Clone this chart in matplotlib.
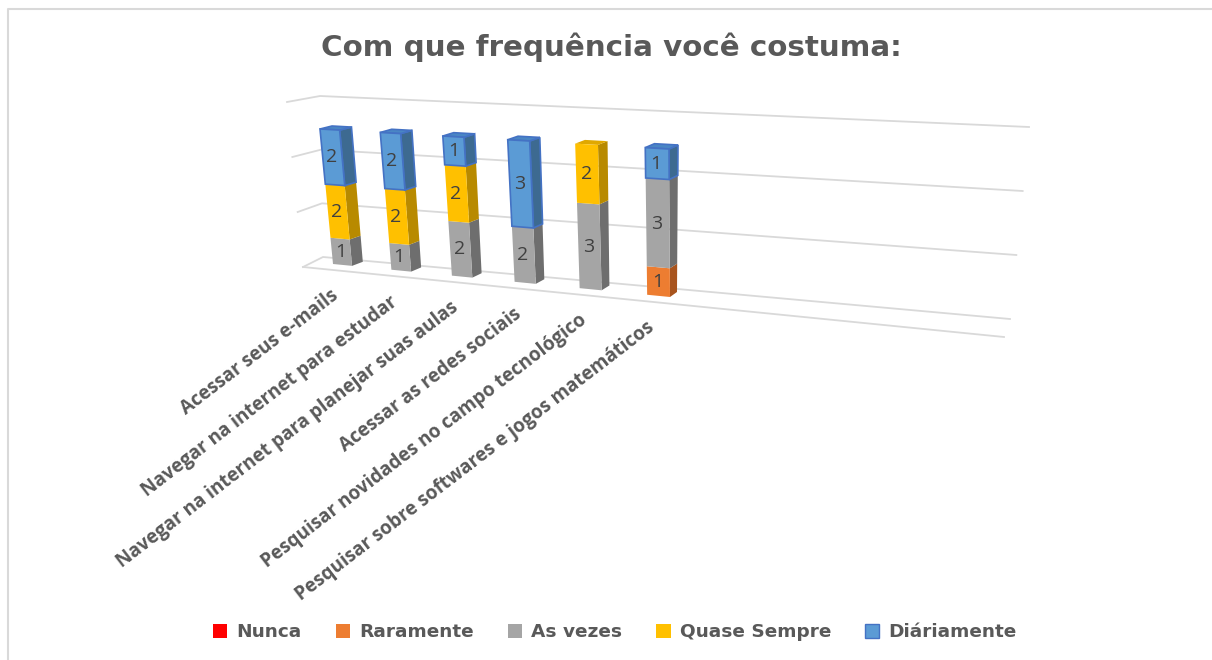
import numpy as np
import matplotlib
matplotlib.use("Agg")
import matplotlib.pyplot as plt
from matplotlib.patches import Polygon, Patch

plt.rcParams['font.family'] = ['Open Sans', 'DejaVu Sans']

# Data
categories = [
    "Acessar seus e-mails",
    "Navegar na internet para estudar",
    "Navegar na internet para planejar suas aulas",
    "Acessar as redes sociais",
    "Pesquisar novidades no campo tecnológico",
    "Pesquisar sobre softwares e jogos matemáticos",
]
series_names = ["Nunca", "Raramente", "As vezes", "Quase Sempre", "Diáriamente"]
nunca = [0, 0, 0, 0, 0, 0]
raramente = [0, 0, 0, 0, 0, 1]
as_vezes = [1, 1, 2, 2, 3, 3]
quase_sempre = [2, 2, 2, 0, 2, 0]
diariamente = [2, 2, 1, 3, 0, 1]
grid_values = [0, 2, 4, 6]

# Colours: front, side, top, edge
colors = {
    "Nunca": ("#FF0000", "#B00000", "#E00000", None),
    "Raramente": ("#ED7D31", "#A8541E", "#D06A28", None),
    "As vezes": ("#A5A5A5", "#6E6E6E", "#8C8C8C", None),
    "Quase Sempre": ("#FFC000", "#B88A00", "#E0A800", None),
    "Diáriamente": ("#5B9BD5", "#3D6A91", "#4A86C4", "#4472C4"),
}
GRID = "#D9D9D9"
TEXT = "#595959"


# Perspective mapping of a plane, from four corner matches
def homography(src, dst):
    rows = []
    for (x, y), (u, v) in zip(src, dst):
        rows.append([x, y, 1, 0, 0, 0, -u * x, -u * y, -u])
        rows.append([0, 0, 0, x, y, 1, -v * x, -v * y, -v])
    return np.linalg.svd(np.array(rows, dtype=float))[2][-1].reshape(3, 3)


def apply(h, x, y):
    p = h @ np.array([x, y, 1.0])
    return p[0] / p[2], p[1] / p[2]


bar_w = 0.33
x_lo, x_hi = -bar_w / 2, len(categories) - 1 + bar_w / 2
corners = [(x_lo, 0), (x_hi, 0), (x_hi, 5), (x_lo, 5)]
front_plane = homography(corners, [(333, 264), (670, 297), (669, 149), (320, 129)])
back_plane = homography(corners, [(344, 260), (677, 292), (678, 145), (332, 126)])


def bar_point(x, v, depth):
    fx, fy = apply(front_plane, x, v)
    bx, by = apply(back_plane, x, v)
    return fx + (bx - fx) * depth, fy + (by - fy) * depth


# The three upright edges of the chart box, value 0 and value 6
front_left_edge = ((303, 267), (287, 102))
back_left_edge = ((323, 257), (320, 96))
back_right_edge = ((1010, 319), (1029, 127))


def edge_point(edge, v):
    (x0, y0), (x1, y1) = edge
    t = v / max(grid_values)
    return x0 + (x1 - x0) * t, y0 + (y1 - y0) * t


fig = plt.figure(figsize=(12.12, 6.6), dpi=100)
ax = fig.add_axes([0, 0, 1, 1])
ax.set_xlim(0, 1212)
ax.set_ylim(660, 0)
ax.axis("off")

# Outer frame
ax.plot([8, 8, 1212], [660, 9, 9], color=GRID, lw=1.5)

# Gridlines on the wall and the side wall
for g in grid_values:
    pts = [edge_point(front_left_edge, g), edge_point(back_left_edge, g), edge_point(back_right_edge, g)]
    ax.plot(*zip(*pts), color=GRID, lw=1.3, zorder=1)
ax.plot([303, 1004], [267, 337], color=GRID, lw=1.3, zorder=1)

# Stacked bars, drawn left to right, bottom to top
stack = [nunca, raramente, as_vezes, quase_sempre, diariamente]
for i, cat in enumerate(categories):
    l, r = i - bar_w / 2, i + bar_w / 2
    base = 0
    for name, vals in zip(series_names, stack):
        val = vals[i]
        if val == 0:
            continue
        top = base + val
        c_front, c_side, c_top, c_edge = colors[name]
        edge = c_edge if c_edge else "none"
        ax.add_patch(Polygon([bar_point(r, base, 0), bar_point(r, base, 1),
                              bar_point(r, top, 1), bar_point(r, top, 0)],
                             fc=c_side, ec=edge, lw=1.2, zorder=3))
        if top == sum(s[i] for s in stack):
            ax.add_patch(Polygon([bar_point(l, top, 0), bar_point(r, top, 0),
                                  bar_point(r, top, 1), bar_point(l, top, 1)],
                                 fc=c_top, ec=edge, lw=1.2, zorder=3))
        ax.add_patch(Polygon([bar_point(l, base, 0), bar_point(r, base, 0),
                              bar_point(r, top, 0), bar_point(l, top, 0)],
                             fc=c_front, ec=edge, lw=1.2, zorder=3))
        tx, ty = bar_point(i, base + val / 2, 0)
        ax.text(tx - 1, ty, str(val), color="#404040", fontsize=14, ha="center", va="center", zorder=4)
        base = top
    ax_x, ax_y = bar_point(i, 0, 0)
    ax.text(ax_x - 6, ax_y + 29, cat, color=TEXT, fontsize=13.6, fontweight="bold",
            rotation=37.5, rotation_mode="anchor", ha="right", va="center")

ax.text(611, 47, "Com que frequência você costuma:", color=TEXT, fontsize=21.2,
        family="DejaVu Sans", fontweight="bold", ha="center", va="center")

# Legend
handles = [Patch(fc=colors[n][0], ec=colors[n][3] if colors[n][3] else "none") for n in series_names]
ax.legend(handles, series_names, loc="center", bbox_to_anchor=(615 / 1212, 1 - 632 / 660), ncol=5,
          frameon=False, handlelength=0.78, handleheight=0.78, handletextpad=0.5, columnspacing=1.83,
          prop={"family": "DejaVu Sans", "size": 13.3, "weight": "bold"}, labelcolor=TEXT)

fig.savefig("out.png", dpi=100)
